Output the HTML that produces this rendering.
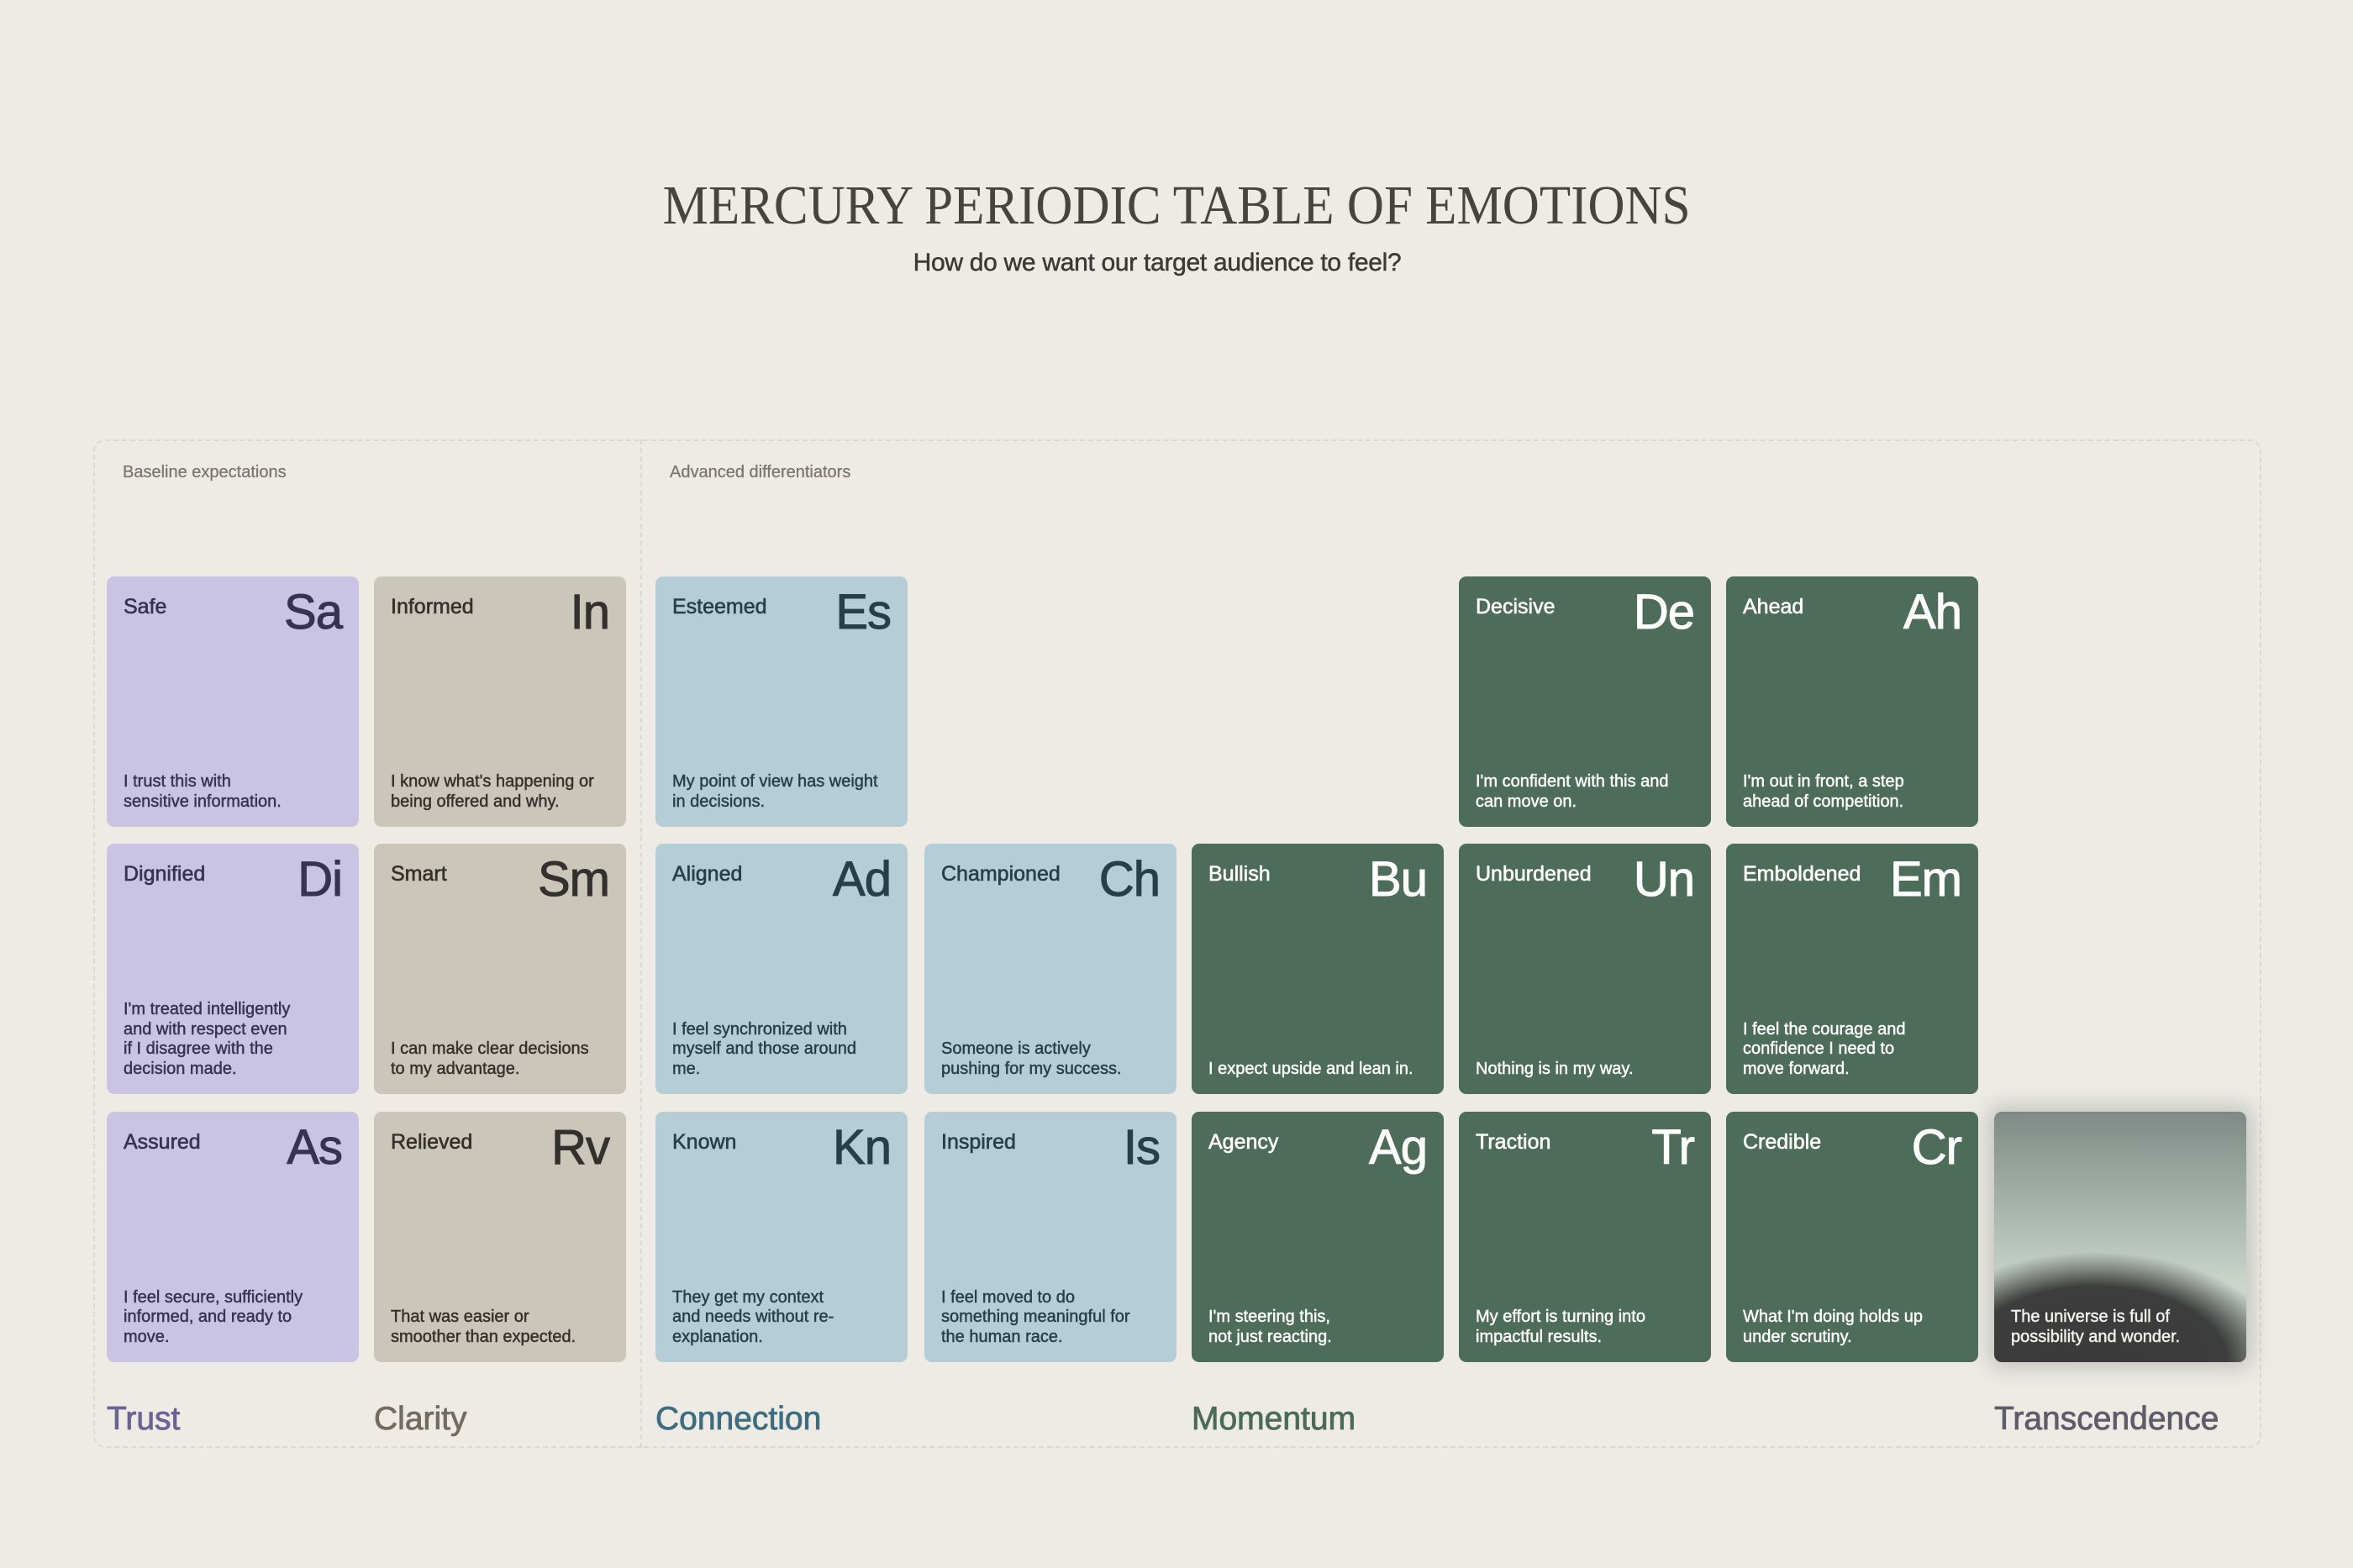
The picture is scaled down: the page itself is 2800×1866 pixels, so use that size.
<!DOCTYPE html>
<html><head><meta charset="utf-8"><style>
*{margin:0;padding:0;box-sizing:border-box}
body{width:2800px;height:1866px;background:#eeebe5;position:relative;overflow:hidden;font-family:"Liberation Sans",sans-serif}
.title{position:absolute;left:0;width:2800px;top:205px;text-align:center;font-family:"Liberation Serif",serif;font-size:66px;color:#46443f;line-height:80px}
.title span{display:inline-block;transform:scaleX(0.925)}
.sub{position:absolute;left:-23px;width:2800px;top:296px;text-align:center;font-size:30px;color:#3c3a36;letter-spacing:-0.3px;-webkit-text-stroke:0.5px #3c3a36}
.box{position:absolute;left:111px;top:523px;width:2580px;height:1200px;border:2px dashed #dcd8d0;border-radius:14px}
.div{position:absolute;left:762px;top:523px;height:1200px;border-left:2px dashed #dcd8d0}
.sec{position:absolute;top:551px;font-size:20px;color:#7b776d;-webkit-text-stroke:0.3px #7b776d}
.t{position:absolute;width:300px;height:298px;border-radius:9px;padding:20px}
.t .n{position:absolute;left:20px;top:22px;font-size:25px;-webkit-text-stroke:0.6px currentColor}
.t .s{position:absolute;right:20px;top:8px;font-size:58px;line-height:70px;letter-spacing:-1px;-webkit-text-stroke:1px currentColor}
.t .d{position:absolute;left:20px;bottom:18px;font-size:20px;line-height:23.5px;width:275px;-webkit-text-stroke:0.45px currentColor}
.p{background:#c9c4e4;color:#363250}
.b{background:#cbc6ba;color:#33312d}
.c{background:#b5cdd7;color:#25404a}
.g{background:#4d6c5a;color:#fff}
.cat{position:absolute;top:1667px;font-size:39px;-webkit-text-stroke:0.8px currentColor}
.tr{background:radial-gradient(ellipse 95% 55% at 40% 100%,#3a3a3a 0%,#3c3d3c 55%,rgba(60,62,60,0) 80%),linear-gradient(180deg,#7f8a86 0%,#a9b6ae 40%,#cbd6cd 70%,#b9c6bd 100%);color:#f2f2ee;box-shadow:0 0 24px 8px rgba(120,125,120,0.35)}
</style></head><body>
<div class="title"><span>MERCURY PERIODIC TABLE OF EMOTIONS</span></div>
<div class="sub">How do we want our target audience to feel?</div>
<div class="box"></div><div class="div"></div>
<div class="sec" style="left:146px">Baseline expectations</div>
<div class="sec" style="left:797px">Advanced differentiators</div>

<div class="t p" style="left:127px;top:686px"><div class="n">Safe</div><div class="s">Sa</div><div class="d">I trust this with<br>sensitive information.</div></div>
<div class="t b" style="left:445px;top:686px"><div class="n">Informed</div><div class="s">In</div><div class="d">I know what's happening or<br>being offered and why.</div></div>
<div class="t c" style="left:780px;top:686px"><div class="n">Esteemed</div><div class="s">Es</div><div class="d">My point of view has weight<br>in decisions.</div></div>
<div class="t g" style="left:1736px;top:686px"><div class="n">Decisive</div><div class="s">De</div><div class="d">I'm confident with this and<br>can move on.</div></div>
<div class="t g" style="left:2054px;top:686px"><div class="n">Ahead</div><div class="s">Ah</div><div class="d">I'm out in front, a step<br>ahead of competition.</div></div>

<div class="t p" style="left:127px;top:1004px"><div class="n">Dignified</div><div class="s">Di</div><div class="d">I'm treated intelligently<br>and with respect even<br>if I disagree with the<br>decision made.</div></div>
<div class="t b" style="left:445px;top:1004px"><div class="n">Smart</div><div class="s">Sm</div><div class="d">I can make clear decisions<br>to my advantage.</div></div>
<div class="t c" style="left:780px;top:1004px"><div class="n">Aligned</div><div class="s">Ad</div><div class="d">I feel synchronized with<br>myself and those around<br>me.</div></div>
<div class="t c" style="left:1100px;top:1004px"><div class="n">Championed</div><div class="s">Ch</div><div class="d">Someone is actively<br>pushing for my success.</div></div>
<div class="t g" style="left:1418px;top:1004px"><div class="n">Bullish</div><div class="s">Bu</div><div class="d">I expect upside and lean in.</div></div>
<div class="t g" style="left:1736px;top:1004px"><div class="n">Unburdened</div><div class="s">Un</div><div class="d">Nothing is in my way.</div></div>
<div class="t g" style="left:2054px;top:1004px"><div class="n">Emboldened</div><div class="s">Em</div><div class="d">I feel the courage and<br>confidence I need to<br>move forward.</div></div>

<div class="t p" style="left:127px;top:1323px"><div class="n">Assured</div><div class="s">As</div><div class="d">I feel secure, sufficiently<br>informed, and ready to<br>move.</div></div>
<div class="t b" style="left:445px;top:1323px"><div class="n">Relieved</div><div class="s">Rv</div><div class="d">That was easier or<br>smoother than expected.</div></div>
<div class="t c" style="left:780px;top:1323px"><div class="n">Known</div><div class="s">Kn</div><div class="d">They get my context<br>and needs without re-<br>explanation.</div></div>
<div class="t c" style="left:1100px;top:1323px"><div class="n">Inspired</div><div class="s">Is</div><div class="d">I feel moved to do<br>something meaningful for<br>the human race.</div></div>
<div class="t g" style="left:1418px;top:1323px"><div class="n">Agency</div><div class="s">Ag</div><div class="d">I'm steering this,<br>not just reacting.</div></div>
<div class="t g" style="left:1736px;top:1323px"><div class="n">Traction</div><div class="s">Tr</div><div class="d">My effort is turning into<br>impactful results.</div></div>
<div class="t g" style="left:2054px;top:1323px"><div class="n">Credible</div><div class="s">Cr</div><div class="d">What I'm doing holds up<br>under scrutiny.</div></div>
<div class="t tr" style="left:2373px;top:1323px"><div class="d">The universe is full of<br>possibility and wonder.</div></div>

<div class="cat" style="left:127px;color:#6a6494">Trust</div>
<div class="cat" style="left:445px;color:#716c62">Clarity</div>
<div class="cat" style="left:780px;color:#3f6d80">Connection</div>
<div class="cat" style="left:1418px;color:#4b6b58">Momentum</div>
<div class="cat" style="left:2373px;color:#5d5c6b">Transcendence</div>
</body></html>
